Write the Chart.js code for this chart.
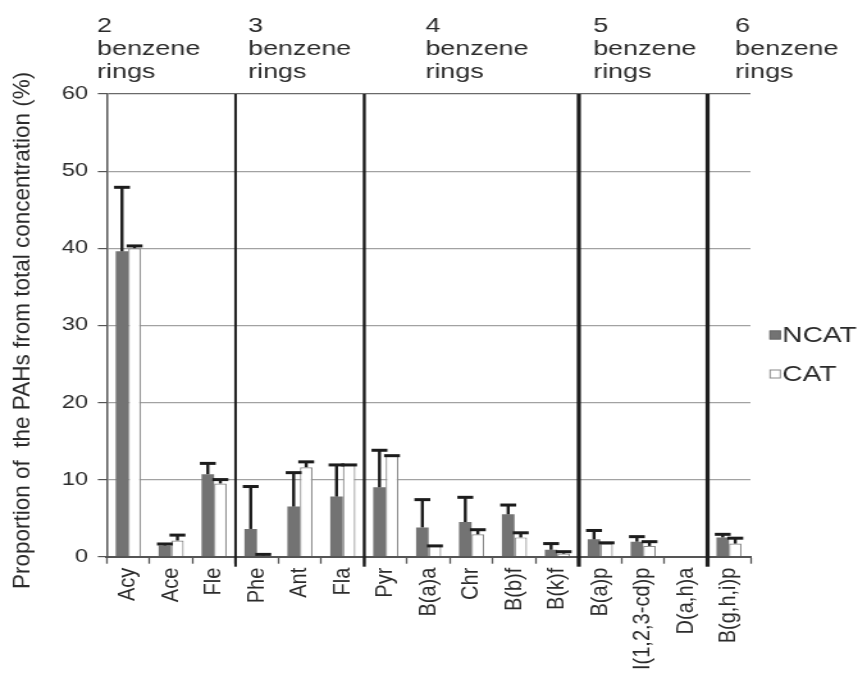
<!DOCTYPE html>
<html>
<head>
<meta charset="utf-8">
<script src="https://cdn.jsdelivr.net/npm/chart.js@4.4.1/dist/chart.umd.min.js"></script>
<style>
html, body { margin: 0; padding: 0; background: #fff; overflow: hidden; }
#wrap { width: 677px; height: 678px; transform-origin: 0 0; }
#c { display: block; }
</style>
</head>
<body>
<div id="wrap"><canvas id="c" width="677" height="678"></canvas></div>
<script>
// PAH compounds, ordered by number of benzene rings
const categories = ['Acy', 'Ace', 'Fle', 'Phe', 'Ant', 'Fla', 'Pyr', 'B(a)a', 'Chr',
  'B(b)f', 'B(k)f', 'B(a)p', 'I(1,2,3-cd)p', 'D(a,h)a', 'B(g,h,i)p'];

// Share of each PAH in the total concentration (%), with the upper error
const ncat    = [39.6, 1.45, 10.7, 3.6, 6.5, 7.8, 9.0, 3.8, 4.5, 5.5, 0.9, 2.25, 1.95, null, 2.5];
const ncatErr = [8.3, 0.2, 1.4, 5.5, 4.4, 4.1, 4.8, 3.6, 3.2, 1.2, 0.8, 1.15, 0.65, null, 0.4];
const cat     = [40.0, 2.1, 9.5, 0.15, 11.6, 11.9, 13.1, 1.4, 2.9, 2.5, 0.4, 1.7, 1.4, null, 1.7];
const catErr  = [0.3, 0.7, 0.5, 0.15, 0.7, 0.0, 0.0, 0.0, 0.6, 0.6, 0.25, 0.1, 0.55, null, 0.7];

const yTicks = [0, 10, 20, 30, 40, 50, 60];

// Ring-count groups: first category index of each group and its ring count
const groupStarts = [0, 3, 6, 11, 14];
const ringCounts = ['2', '3', '4', '5', '6'];

const yTitle = 'Proportion of  the PAHs from total concentration (%)';

// The drawing is made on a narrower canvas that is widened to 867px
const STRETCH = 867 / 677;
document.getElementById('wrap').style.transform = 'scaleX(' + STRETCH + ')';

const FONT = "'Liberation Sans', Arial, Helvetica, sans-serif";
const TEXT = '#2b2b2b';
const AXIS = '#555555';

const errorBars = {
  id: 'errorBars',
  afterDatasetsDraw(chart, args, opts) {
    const ctx = chart.ctx;
    const y = chart.scales.y;
    chart.data.datasets.forEach((ds, d) => {
      const meta = chart.getDatasetMeta(d);
      meta.data.forEach((bar, i) => {
        const v = ds.data[i], e = ds.errors[i];
        if (v == null || e == null) return;
        const top = y.getPixelForValue(v + e);
        const half = bar.width / 2 + opts.capExtra;
        ctx.save();
        ctx.fillStyle = opts.color;
        ctx.fillRect(bar.x - opts.stem / 2, top, opts.stem, bar.y - top);
        ctx.fillRect(bar.x - half, top - opts.cap / 2, half * 2, opts.cap);
        ctx.restore();
      });
    });
  }
};

const decorations = {
  id: 'decorations',
  afterDraw(chart, args, opts) {
    const ctx = chart.ctx;
    const x = chart.scales.x;
    const area = chart.chartArea;
    const step = x.getPixelForValue(1) - x.getPixelForValue(0);
    const leftEdge = i => x.getPixelForValue(i) - step / 2;

    // vertical separators between ring groups
    ctx.save();
    ctx.fillStyle = '#1e1e1e';
    groupStarts.slice(1).forEach((s, k) => {
      const px = leftEdge(s);
      const w = opts.dividerWidths[k];
      ctx.fillRect(px - w / 2, area.top, w, area.bottom - area.top + opts.dividerDrop);
    });
    ctx.restore();

    // category labels, reading bottom to top
    ctx.save();
    ctx.fillStyle = TEXT;
    ctx.font = '20px ' + FONT;
    ctx.textAlign = 'right';
    ctx.textBaseline = 'middle';
    x.ticks.forEach((t, i) => {
      ctx.save();
      ctx.translate(x.getPixelForTick(i), area.bottom + opts.labelGap);
      ctx.scale(opts.labelWidthScale / STRETCH, 1);
      ctx.rotate(-Math.PI / 2);
      ctx.fillText(x.getLabelForValue(t.value), 0, 0);
      ctx.restore();
    });
    ctx.restore();

    // group headers
    ctx.save();
    ctx.fillStyle = TEXT;
    ctx.font = '21px ' + FONT;
    ctx.textAlign = 'left';
    ctx.textBaseline = 'alphabetic';
    groupStarts.forEach((s, g) => {
      const px = leftEdge(s) + opts.headerOffsets[g];
      [ringCounts[g], 'benzene', 'rings'].forEach((line, j) => {
        ctx.fillText(line, px, opts.headerBaselines[j]);
      });
    });
    ctx.restore();

    // y axis title
    ctx.save();
    ctx.translate(opts.titleX, (area.top + area.bottom) / 2 + opts.titleShift);
    ctx.scale(opts.titleWidthScale / STRETCH, 1);
    ctx.rotate(-Math.PI / 2);
    ctx.fillStyle = TEXT;
    ctx.font = '22.5px ' + FONT;
    ctx.textAlign = 'center';
    ctx.textBaseline = 'middle';
    ctx.fillText(yTitle, 0, 0);
    ctx.restore();

    // legend
    ctx.save();
    ctx.font = '22px ' + FONT;
    ctx.textAlign = 'left';
    ctx.textBaseline = 'middle';
    chart.data.datasets.forEach((ds, d) => {
      const cy = opts.legendY[d];
      ctx.fillStyle = ds.backgroundColor;
      ctx.fillRect(opts.legendX, cy - 4.5, 9, 9);
      ctx.strokeStyle = ds.borderColor;
      ctx.lineWidth = 1;
      ctx.strokeRect(opts.legendX + 0.5, cy - 4, 8, 8);
      ctx.fillStyle = TEXT;
      ctx.fillText(ds.label, opts.legendX + 10, cy + 1);
    });
    ctx.restore();
  }
};

new Chart(document.getElementById('c'), {
  type: 'bar',
  data: {
    labels: categories,
    datasets: [
      {
        label: 'NCAT',
        data: ncat,
        errors: ncatErr,
        backgroundColor: '#737373',
        borderColor: '#6a6a6a',
        borderWidth: 0
      },
      {
        label: 'CAT',
        data: cat,
        errors: catErr,
        backgroundColor: '#ffffff',
        borderColor: '#8a8a8a',
        borderWidth: 1.2
      }
    ]
  },
  options: {
    responsive: false,
    animation: false,
    devicePixelRatio: 1,
    layout: { padding: { top: 94, right: 91, bottom: 0, left: 0 } },
    datasets: { bar: { categoryPercentage: 0.585, barPercentage: 1.0 } },
    plugins: {
      legend: { display: false },
      tooltip: { enabled: false },
      errorBars: { color: '#1c1c1c', stem: 2.4, cap: 3, capExtra: 1.3 },
      decorations: {
        dividerWidths: [2.0, 2.4, 3.2, 3.2],
        dividerDrop: 10,
        labelGap: 11,
        labelWidthScale: 1.15,
        headerOffsets: [-7.6, 9.8, 47.7, 11.2, 21.6],
        headerBaselines: [32, 55, 78],
        titleX: 17.5,
        titleShift: 5,
        titleWidthScale: 1.05,
        legendX: 600.8,
        legendY: [335, 374]
      }
    },
    scales: {
      x: {
        afterFit: s => { s.height = 121.3; },
        grid: {
          drawOnChartArea: false,
          drawTicks: true,
          tickLength: 7,
          tickColor: AXIS,
          tickWidth: 1.3
        },
        border: { display: true, color: AXIS, width: 2 },
        ticks: { display: false, autoSkip: false }
      },
      y: {
        min: 0,
        max: 60,
        afterFit: s => { s.width = 83.4; },
        afterBuildTicks: s => { s.ticks = yTicks.map(v => ({ value: v })); },
        grid: {
          color: c => (c.tick && c.tick.value === 60) ? '#6a6a6a' : '#a2a2a2',
          lineWidth: 1.2,
          drawTicks: true,
          tickLength: 7,
          tickColor: AXIS,
          tickWidth: 1.2
        },
        border: { display: true, color: AXIS, width: 1.5 },
        ticks: {
          padding: 7.6,
          color: TEXT,
          font: { family: FONT, size: 18.5 }
        }
      }
    }
  },
  plugins: [errorBars, decorations]
});
</script>
</body>
</html>
